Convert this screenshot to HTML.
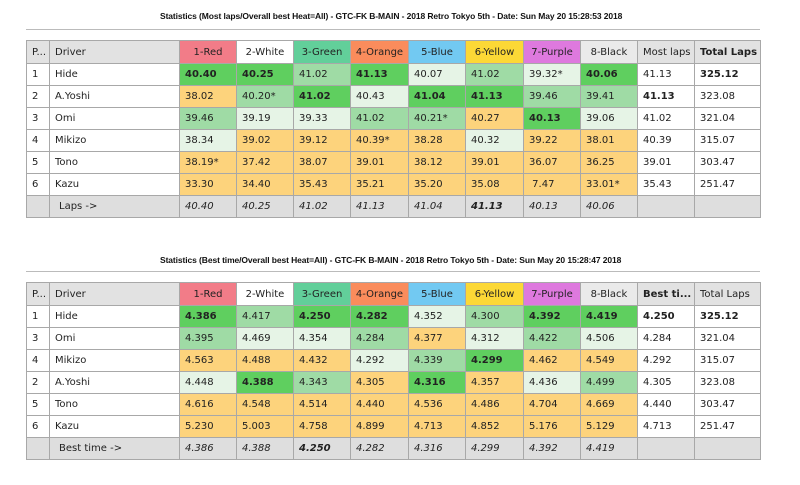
<!DOCTYPE html>
<html><head><meta charset="utf-8"><style>
body{margin:0;width:800px;height:485px;background:#fff;font-family:"DejaVu Sans","Liberation Sans",sans-serif;position:relative;overflow:hidden}
.t{position:absolute;left:160px;font-size:8.5px;font-weight:bold;color:#111;font-family:"Liberation Sans",sans-serif;letter-spacing:-0.1px}
.hr{position:absolute;left:26px;width:734px;height:1px;background:#bbb}
table{position:absolute;left:26px;border-collapse:collapse;table-layout:fixed;width:735px}
td{border:1px solid #a8a8a8;height:21px;padding:0 0 0 5px;font-size:10px;color:#222;white-space:nowrap;overflow:hidden}
tr.h td{height:22px;background:#e2e2e2}
.D{background:#5fcf5f;font-weight:bold}.M{background:#9fdba5}.L{background:#e6f4e6}.Y{background:#fdd37c}
.g td{background:#dedede;font-style:italic}
.w{background:#fff}
b{font-weight:bold}
</style></head><body>
<div class="t" style="top:11px">Statistics (Most laps/Overall best Heat=All) - GTC-FK B-MAIN - 2018 Retro Tokyo 5th - Date: Sun May 20 15:28:53 2018</div>
<div class="hr" style="top:29px"></div>
<table style="top:40px">
<colgroup><col style="width:23px"><col style="width:130px"><col style="width:57px"><col style="width:57px"><col style="width:57px"><col style="width:58px"><col style="width:57px"><col style="width:58px"><col style="width:57px"><col style="width:57px"><col style="width:57px"><col style="width:66px"></colgroup>
<tr class="h"><td>P...</td><td>Driver</td><td style="background:#f27c88;text-align:center;padding:0">1-Red</td><td style="background:#fff;text-align:center;padding:0">2-White</td><td style="background:#62cf9a;text-align:center;padding:0">3-Green</td><td style="background:#fa8c5c;text-align:center;padding:0">4-Orange</td><td style="background:#72c9f2;text-align:center;padding:0">5-Blue</td><td style="background:#fcd836;text-align:center;padding:0">6-Yellow</td><td style="background:#de79de;text-align:center;padding:0">7-Purple</td><td style="background:#eaeaea;text-align:center;padding:0">8-Black</td><td>Most laps</td><td><b>Total Laps</b></td></tr>
<tr><td class="w">1</td><td class="w">Hide</td><td class="D">40.40</td><td class="D">40.25</td><td class="M">41.02</td><td class="D">41.13</td><td class="L">40.07</td><td class="M">41.02</td><td class="L">39.32*</td><td class="D">40.06</td><td class="w">41.13</td><td class="w"><b>325.12</b></td></tr>
<tr><td class="w">2</td><td class="w">A.Yoshi</td><td class="Y">38.02</td><td class="M">40.20*</td><td class="D">41.02</td><td class="L">40.43</td><td class="D">41.04</td><td class="D">41.13</td><td class="M">39.46</td><td class="M">39.41</td><td class="w"><b>41.13</b></td><td class="w">323.08</td></tr>
<tr><td class="w">3</td><td class="w">Omi</td><td class="M">39.46</td><td class="L">39.19</td><td class="L">39.33</td><td class="M">41.02</td><td class="M">40.21*</td><td class="Y">40.27</td><td class="D">40.13</td><td class="L">39.06</td><td class="w">41.02</td><td class="w">321.04</td></tr>
<tr><td class="w">4</td><td class="w">Mikizo</td><td class="L">38.34</td><td class="Y">39.02</td><td class="Y">39.12</td><td class="Y">40.39*</td><td class="Y">38.28</td><td class="L">40.32</td><td class="Y">39.22</td><td class="Y">38.01</td><td class="w">40.39</td><td class="w">315.07</td></tr>
<tr><td class="w">5</td><td class="w">Tono</td><td class="Y">38.19*</td><td class="Y">37.42</td><td class="Y">38.07</td><td class="Y">39.01</td><td class="Y">38.12</td><td class="Y">39.01</td><td class="Y">36.07</td><td class="Y">36.25</td><td class="w">39.01</td><td class="w">303.47</td></tr>
<tr><td class="w">6</td><td class="w">Kazu</td><td class="Y">33.30</td><td class="Y">34.40</td><td class="Y">35.43</td><td class="Y">35.21</td><td class="Y">35.20</td><td class="Y">35.08</td><td class="Y">&nbsp;7.47</td><td class="Y">33.01*</td><td class="w">35.43</td><td class="w">251.47</td></tr>
<tr class="g"><td></td><td style="font-style:normal;padding-left:9px">Laps -&gt;</td><td>40.40</td><td>40.25</td><td>41.02</td><td>41.13</td><td>41.04</td><td><b>41.13</b></td><td>40.13</td><td>40.06</td><td></td><td></td></tr>
</table>

<div class="t" style="top:255px">Statistics (Best time/Overall best Heat=All) - GTC-FK B-MAIN - 2018 Retro Tokyo 5th - Date: Sun May 20 15:28:47 2018</div>
<div class="hr" style="top:271px"></div>
<table style="top:282px">
<colgroup><col style="width:23px"><col style="width:130px"><col style="width:57px"><col style="width:57px"><col style="width:57px"><col style="width:58px"><col style="width:57px"><col style="width:58px"><col style="width:57px"><col style="width:57px"><col style="width:57px"><col style="width:66px"></colgroup>
<tr class="h"><td>P...</td><td>Driver</td><td style="background:#f27c88;text-align:center;padding:0">1-Red</td><td style="background:#fff;text-align:center;padding:0">2-White</td><td style="background:#62cf9a;text-align:center;padding:0">3-Green</td><td style="background:#fa8c5c;text-align:center;padding:0">4-Orange</td><td style="background:#72c9f2;text-align:center;padding:0">5-Blue</td><td style="background:#fcd836;text-align:center;padding:0">6-Yellow</td><td style="background:#de79de;text-align:center;padding:0">7-Purple</td><td style="background:#eaeaea;text-align:center;padding:0">8-Black</td><td><b>Best ti...</b></td><td>Total Laps</td></tr>
<tr><td class="w">1</td><td class="w">Hide</td><td class="D">4.386</td><td class="M">4.417</td><td class="D">4.250</td><td class="D">4.282</td><td class="L">4.352</td><td class="M">4.300</td><td class="D">4.392</td><td class="D">4.419</td><td class="w"><b>4.250</b></td><td class="w"><b>325.12</b></td></tr>
<tr><td class="w">3</td><td class="w">Omi</td><td class="M">4.395</td><td class="L">4.469</td><td class="L">4.354</td><td class="M">4.284</td><td class="Y">4.377</td><td class="L">4.312</td><td class="M">4.422</td><td class="L">4.506</td><td class="w">4.284</td><td class="w">321.04</td></tr>
<tr><td class="w">4</td><td class="w">Mikizo</td><td class="Y">4.563</td><td class="Y">4.488</td><td class="Y">4.432</td><td class="L">4.292</td><td class="M">4.339</td><td class="D">4.299</td><td class="Y">4.462</td><td class="Y">4.549</td><td class="w">4.292</td><td class="w">315.07</td></tr>
<tr><td class="w">2</td><td class="w">A.Yoshi</td><td class="L">4.448</td><td class="D">4.388</td><td class="M">4.343</td><td class="Y">4.305</td><td class="D">4.316</td><td class="Y">4.357</td><td class="L">4.436</td><td class="M">4.499</td><td class="w">4.305</td><td class="w">323.08</td></tr>
<tr><td class="w">5</td><td class="w">Tono</td><td class="Y">4.616</td><td class="Y">4.548</td><td class="Y">4.514</td><td class="Y">4.440</td><td class="Y">4.536</td><td class="Y">4.486</td><td class="Y">4.704</td><td class="Y">4.669</td><td class="w">4.440</td><td class="w">303.47</td></tr>
<tr><td class="w">6</td><td class="w">Kazu</td><td class="Y">5.230</td><td class="Y">5.003</td><td class="Y">4.758</td><td class="Y">4.899</td><td class="Y">4.713</td><td class="Y">4.852</td><td class="Y">5.176</td><td class="Y">5.129</td><td class="w">4.713</td><td class="w">251.47</td></tr>
<tr class="g"><td></td><td style="font-style:normal;padding-left:9px">Best time -&gt;</td><td>4.386</td><td>4.388</td><td><b>4.250</b></td><td>4.282</td><td>4.316</td><td>4.299</td><td>4.392</td><td>4.419</td><td></td><td></td></tr>
</table>
</body></html>
